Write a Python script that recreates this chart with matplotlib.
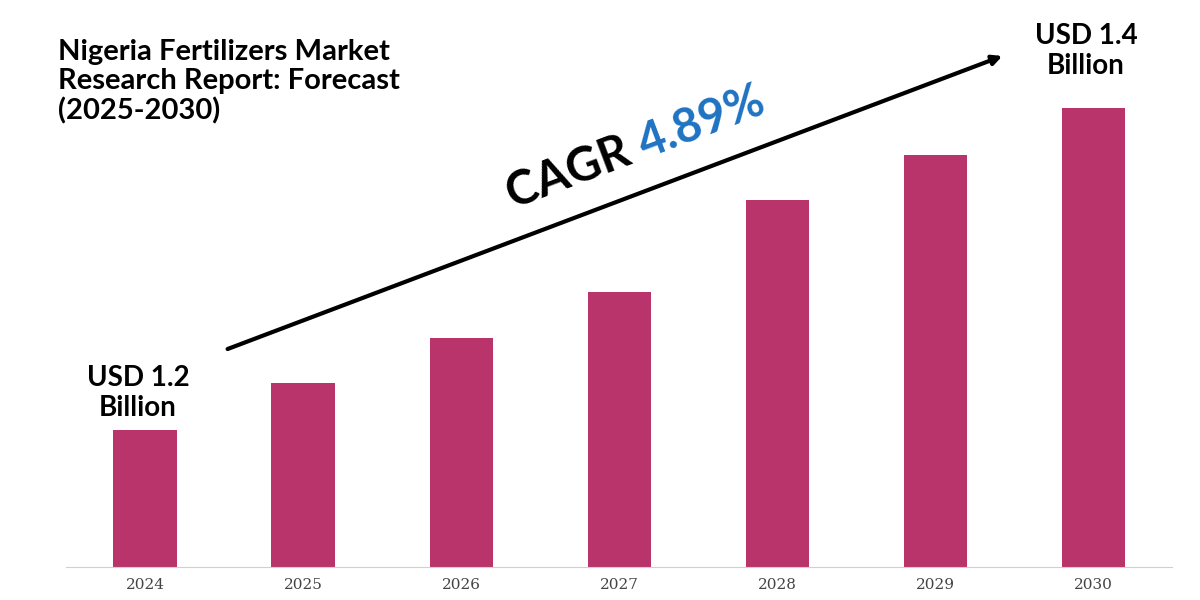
import matplotlib
matplotlib.use("Agg")
import matplotlib.pyplot as plt

years = ["2024", "2025", "2026", "2027", "2028", "2029", "2030"]
values = [1.200, 1.229, 1.257, 1.286, 1.343, 1.371, 1.400]

bar_color = "#B8346A"

fig = plt.figure(figsize=(12, 6), dpi=100)
ax = fig.add_axes([0.055, 0.055, 0.922, 0.778])
ax.bar(range(len(years)), values, width=0.4, color=bar_color)
ax.set_xlim(-0.5, len(years) - 0.5)
ax.set_ylim(1.115, 1.405)
ax.set_xticks(range(len(years)))
ax.set_xticklabels(years, fontfamily="DejaVu Serif", fontsize=11, color="#444444")
ax.tick_params(axis="x", length=0, pad=8)
ax.set_yticks([])
for side in ["top", "right", "left"]:
    ax.spines[side].set_visible(False)
ax.spines["bottom"].set_color("#d0d0d0")

font = "Lato"
fig.text(0.048, 0.935, "Nigeria Fertilizers Market\nResearch Report: Forecast\n(2025-2030)",
         fontfamily=font, fontweight="bold", fontsize=21, va="top", ha="left",
         linespacing=1.15)
fig.text(0.115, 0.345, "USD 1.2\nBillion", fontfamily=font, fontweight="bold",
         fontsize=20, ha="center", va="center", linespacing=1.2)
fig.text(0.905, 0.915, "USD 1.4\nBillion", fontfamily=font, fontweight="bold",
         fontsize=20, ha="center", va="center", linespacing=1.2)

fig.add_artist(matplotlib.patches.FancyArrowPatch(
    (225 / 1200, 1 - 350 / 600), (1005 / 1200, 1 - 55 / 600),
    transform=fig.transFigure, arrowstyle="-|>", mutation_scale=14,
    color="black", linewidth=3))

fig.text(0.537, 0.735, "CAGR ", fontfamily=font, fontweight="bold", fontsize=34,
         rotation=20.7, rotation_mode="anchor", ha="right", va="baseline")
fig.text(0.537, 0.735, "4.89%", fontfamily=font, fontweight="bold", fontsize=34,
         color="#1F73C1", rotation=20.7, rotation_mode="anchor", ha="left",
         va="baseline")

fig.savefig("out.png")
